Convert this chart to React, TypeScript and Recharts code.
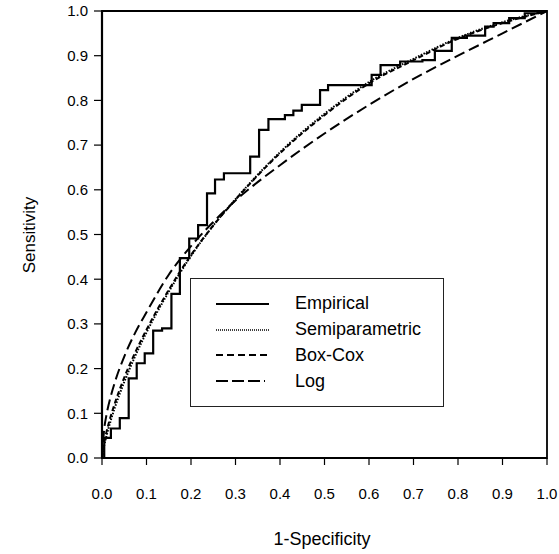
import { LineChart, Line, XAxis, YAxis, ReferenceArea, Legend } from "recharts";

// smooth ROC curves share one set of false-positive rates
const fpr = [0, 0.005, 0.01, 0.02, 0.03, 0.05, 0.075, 0.1, 0.15, 0.2, 0.25, 0.3, 0.4, 0.5, 0.6, 0.7, 0.8, 0.9, 1];
const semiparametric = [0, 0.028, 0.049, 0.085, 0.116, 0.17, 0.229, 0.281, 0.372, 0.452, 0.52, 0.579, 0.684, 0.77, 0.841, 0.893, 0.94, 0.975, 1];
const boxCox = [0, 0.035, 0.058, 0.095, 0.126, 0.18, 0.237, 0.287, 0.376, 0.454, 0.52, 0.578, 0.682, 0.767, 0.838, 0.89, 0.938, 0.973, 1];
const logCurve = [0, 0.065, 0.096, 0.139, 0.173, 0.227, 0.281, 0.326, 0.41, 0.474, 0.528, 0.576, 0.655, 0.726, 0.79, 0.848, 0.9, 0.95, 1];

// empirical step function (corner where each level starts)
const empX = [0, 0.005, 0.02, 0.04, 0.06, 0.078, 0.096, 0.115, 0.135, 0.156, 0.175, 0.196, 0.216, 0.236, 0.254, 0.274, 0.333, 0.353, 0.374, 0.411, 0.43, 0.449, 0.49, 0.508, 0.606, 0.626, 0.67, 0.72, 0.748, 0.786, 0.82, 0.861, 0.88, 0.915, 0.95, 0.98, 1];
const empY = [0, 0.045, 0.066, 0.089, 0.178, 0.212, 0.234, 0.285, 0.29, 0.367, 0.447, 0.491, 0.521, 0.592, 0.623, 0.637, 0.674, 0.734, 0.758, 0.767, 0.777, 0.79, 0.823, 0.834, 0.857, 0.879, 0.887, 0.89, 0.911, 0.94, 0.945, 0.965, 0.973, 0.984, 0.995, 1, 1];

const ticks = [0, 0.1, 0.2, 0.3, 0.4, 0.5, 0.6, 0.7, 0.8, 0.9, 1];

const legendItems = [
  { name: "Empirical", dash: undefined, width: 2.2 },
  { name: "Semiparametric", dash: "1 1", width: 1.6 },
  { name: "Box-Cox", dash: "7 4", width: 1.8 },
  { name: "Log", dash: "12 4 12 4 12 4 1 4", width: 1.8 },
];

const smooth = fpr.map((x, i) => ({
  x,
  semi: semiparametric[i],
  box: boxCox[i],
  log: logCurve[i],
}));
const empirical = empX.map((x, i) => ({ x, emp: empY[i] }));

const font = "'Liberation Sans', Arial, Helvetica, sans-serif";
const tickStyle = { fill: "#000", fontSize: 15, fontFamily: font };

function LegendBox() {
  return (
    <div
      style={{
        border: "1px solid #222",
        width: 254,
        height: 129,
        boxSizing: "border-box",
        paddingTop: 12,
        fontFamily: font,
      }}
    >
      {legendItems.map((it) => (
        <div key={it.name} style={{ display: "flex", alignItems: "center", height: 25.8 }}>
          <svg width={104} height={10} style={{ flex: "none" }}>
            <line x1={25} x2={78} y1={5} y2={5} stroke="#000" strokeWidth={it.width} strokeDasharray={it.dash} />
          </svg>
          <span style={{ fontSize: 18, color: "#000" }}>{it.name}</span>
        </div>
      ))}
    </div>
  );
}

export default function App() {
  return (
    <div style={{ position: "absolute", left: 0, top: 0, width: 559, height: 554, background: "#fff", fontFamily: font }}>
      <LineChart width={559} height={554} margin={{ top: 11, right: 12, left: 42, bottom: 36 }}>
        <XAxis
          dataKey="x"
          type="number"
          domain={[0, 1]}
          ticks={ticks}
          tickFormatter={(v) => v.toFixed(1)}
          height={60}
          tick={tickStyle}
          tickSize={7}
          tickMargin={23}
          axisLine={{ stroke: "#000", strokeWidth: 2 }}
          tickLine={{ stroke: "#000", strokeWidth: 1.2 }}
          allowDuplicatedCategory={false}
        />
        <YAxis
          type="number"
          domain={[0, 1]}
          ticks={ticks}
          tickFormatter={(v) => v.toFixed(1)}
          width={60}
          tick={tickStyle}
          tickSize={8}
          tickMargin={6}
          axisLine={{ stroke: "#000", strokeWidth: 2.2 }}
          tickLine={{ stroke: "#000", strokeWidth: 1.2 }}
        />
        <ReferenceArea x1={0} x2={1} y1={0} y2={1} fill="none" stroke="#000" strokeWidth={1.8} ifOverflow="visible" />
        <Line data={smooth} dataKey="log" type="monotone" stroke="#000" strokeWidth={2} strokeDasharray="11 5" dot={false} isAnimationActive={false} />
        <Line data={smooth} dataKey="box" type="monotone" stroke="#000" strokeWidth={2} strokeDasharray="5 3" dot={false} isAnimationActive={false} />
        <Line data={smooth} dataKey="semi" type="monotone" stroke="#000" strokeWidth={2} strokeDasharray="1.5 1.5" dot={false} isAnimationActive={false} />
        <Line data={empirical} dataKey="emp" type="stepAfter" stroke="#000" strokeWidth={2.2} dot={false} isAnimationActive={false} />
        <Legend
          layout="horizontal"
          verticalAlign="middle"
          align="center"
          content={() => <LegendBox />}
          wrapperStyle={{ position: "absolute", left: 190, top: 278, width: 254, height: 129 }}
        />
      </LineChart>
      <div
        style={{
          position: "absolute",
          left: 30,
          top: 235,
          transform: "translate(-50%, -50%) rotate(-90deg)",
          fontSize: 17,
          whiteSpace: "nowrap",
        }}
      >
        Sensitivity
      </div>
      <div
        style={{
          position: "absolute",
          left: 322,
          top: 539,
          transform: "translate(-50%, -50%)",
          fontSize: 18,
          whiteSpace: "nowrap",
        }}
      >
        1-Specificity
      </div>
    </div>
  );
}
